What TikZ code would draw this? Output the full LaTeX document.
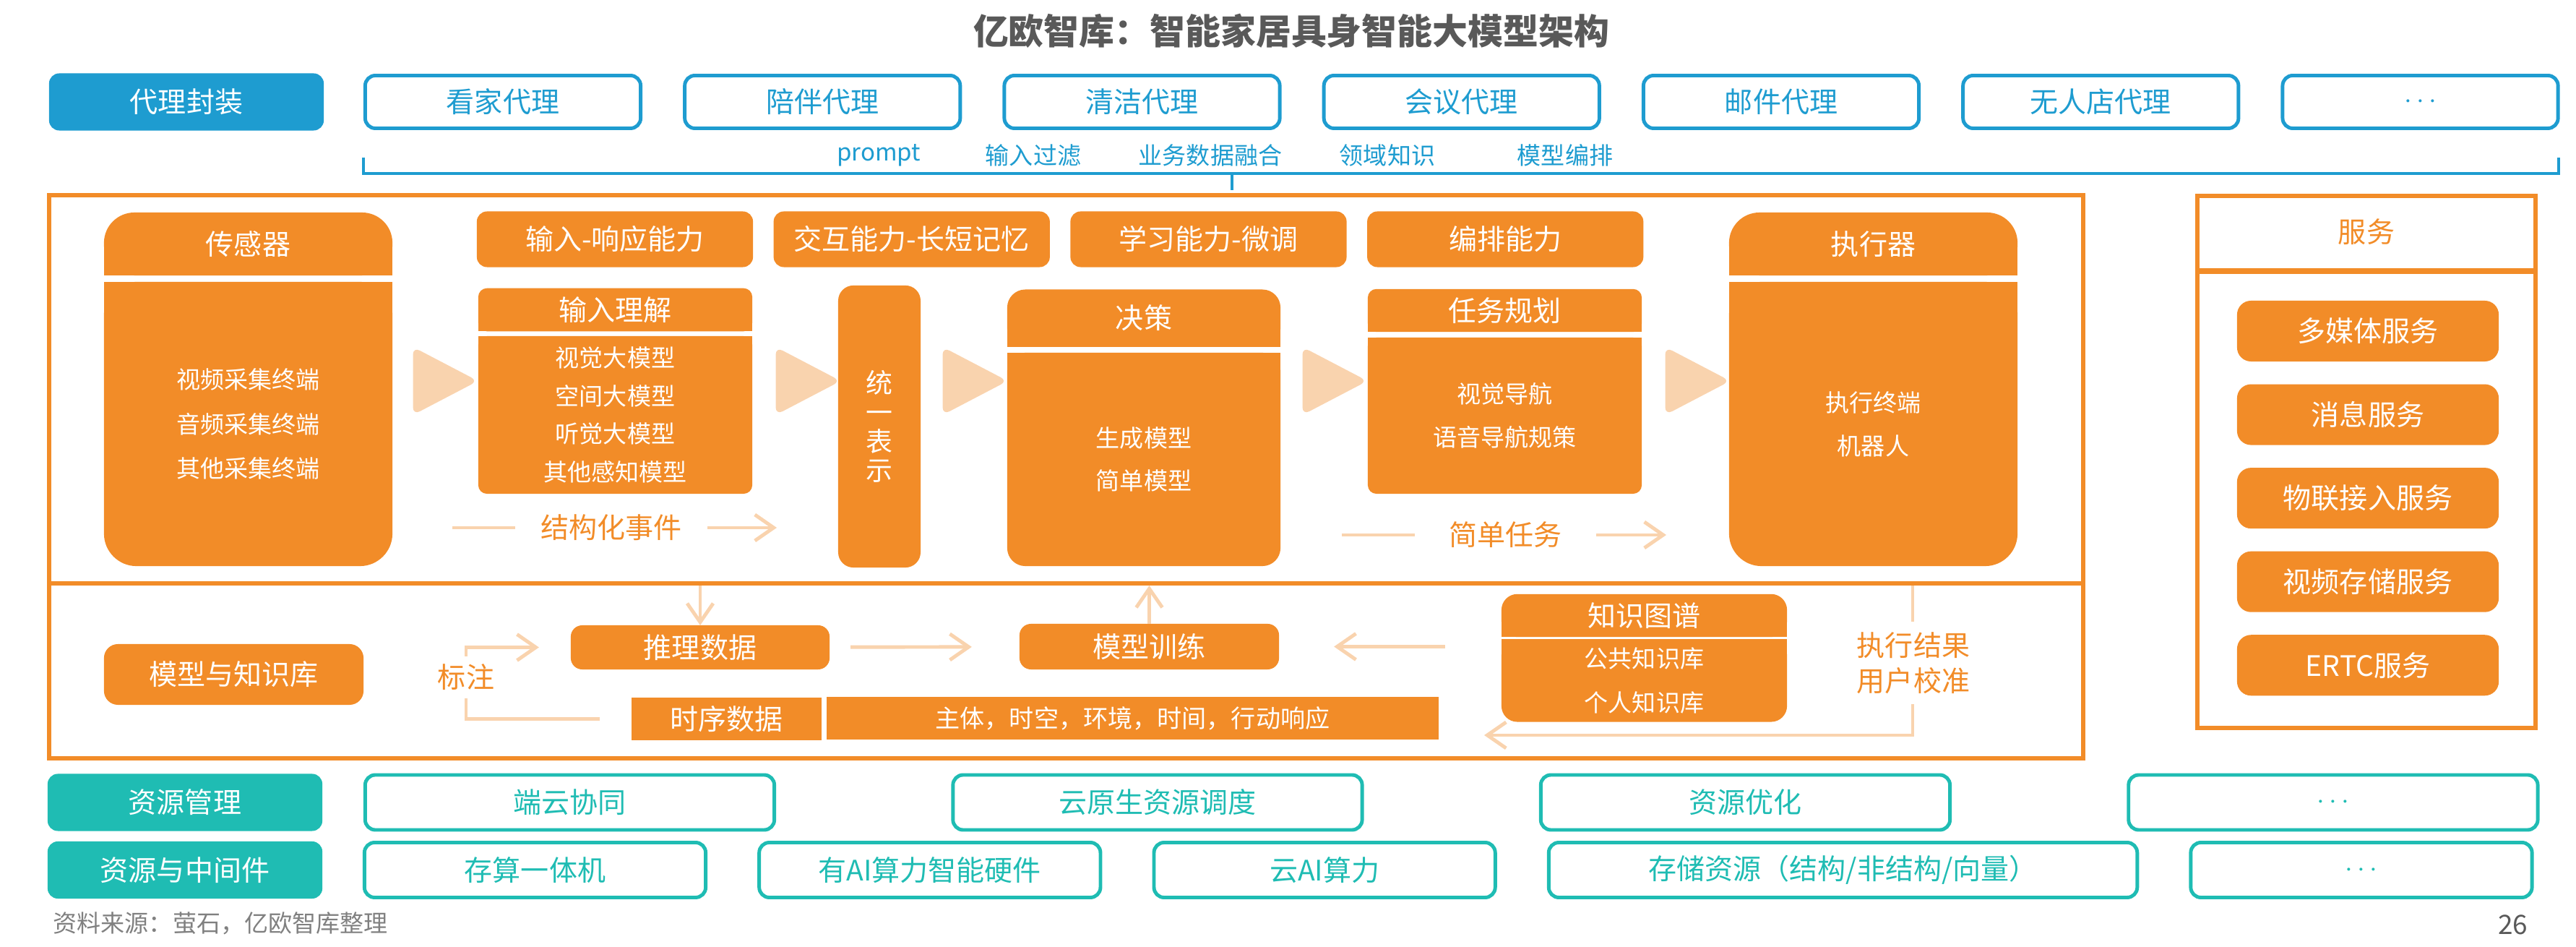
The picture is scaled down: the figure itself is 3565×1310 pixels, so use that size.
\documentclass[tikz,border=0pt]{standalone}
\usepackage{fontspec}
\setmainfont{Noto Sans CJK SC}
\usepackage{tikz}
\usetikzlibrary{
    arrows.meta,
    positioning,
    shapes.geometric
}

\definecolor{eoorange}{HTML}{F28C28}
\definecolor{eopeach}{HTML}{F9D3AE}
\definecolor{eoblue}{HTML}{1E9CD0}
\definecolor{eoteal}{HTML}{1FBCB3}
\definecolor{eogray}{HTML}{595959}

\pgfdeclarelayer{bg}
\pgfsetlayers{bg,main}

\begin{document}
\begin{tikzpicture}[
    x=0.01cm,
    y=-0.01cm,
    outer sep=0pt,
    big/.style={font=\fontsize{11.1pt}{13pt}\selectfont},
    small/.style={font=\fontsize{9.4pt}{11pt}\selectfont},
    tagbox/.style={
        big,
        rounded corners=4pt,
        text=white,
        minimum width=3.8cm,
        minimum height=0.79cm
    },
    agent/.style={
        big,
        draw=eoblue,
        line width=1.4pt,
        rounded corners=4pt,
        text=eoblue,
        minimum width=3.81cm,
        minimum height=0.73cm
    },
    res/.style={
        big,
        draw=eoteal,
        line width=1.4pt,
        rounded corners=4pt,
        text=eoteal,
        minimum height=0.76cm
    },
    hint/.style={
        small,
        text=eoblue
    },
    frame/.style={
        draw=eoorange,
        line width=1.6pt
    },
    ability/.style={
        big,
        fill=eoorange,
        rounded corners=4pt,
        text=white,
        minimum width=3.82cm,
        minimum height=0.77cm
    },
    svcbox/.style={
        big,
        fill=eoorange,
        rounded corners=5.5pt,
        text=white,
        minimum width=3.62cm,
        minimum height=0.84cm
    },
    block/.style={
        big,
        fill=eoorange,
        rounded corners=4.5pt,
        text=white
    },
    plain/.style={
        fill=eoorange,
        text=white
    },
    head/.style={
        big,
        text=white
    },
    body/.style={
        small,
        text=white,
        align=center
    },
    note/.style={
        big,
        text=eoorange
    },
    chev/.style={
        isosceles triangle,
        isosceles triangle stretches,
        fill=eopeach,
        rounded corners=3pt,
        inner sep=0pt,
        minimum width=0.94cm,
        minimum height=0.9cm
    },
    line/.style={
        draw=eopeach,
        line width=1.4pt
    },
    flow/.style={
        draw=eopeach,
        line width=1.4pt,
        -{Straight Barb[length=2.6mm, width=3.6mm]}
    }
]

\useasboundingbox (0,0) rectangle (3565,1310);

\node[font=\fontsize{13.9pt}{16pt}\selectfont\bfseries, text=eogray] (title) at (1787,43)
    {亿欧智库：智能家居具身智能大模型架构};

\node[tagbox, fill=eoblue] (wrap) at (258,141) {代理封装};
\node[agent] (ag1) at (696,141) {看家代理};
\node[agent, right=6.1mm of ag1] (ag2) {陪伴代理};
\node[agent, right=6.1mm of ag2] (ag3) {清洁代理};
\node[agent, right=6.1mm of ag3] (ag4) {会议代理};
\node[agent, right=6.1mm of ag4] (ag5) {邮件代理};
\node[agent, right=6.1mm of ag5] (ag6) {无人店代理};
\node[agent, right=6.1mm of ag6] (ag7) {$\cdots$};

\draw[eoblue, line width=1.1pt] (503,218) -- (503,240) -- (3541,240) -- (3541,218);
\draw[eoblue, line width=1.1pt] (1705,240) -- (1705,263);

\node[hint] (h1) at (1216,215) {prompt};
\node[hint] (h2) at (1430,215) {输入过滤};
\node[hint] (h3) at (1675,215) {业务数据融合};
\node[hint] (h4) at (1920,215) {领域知识};
\node[hint] (h5) at (2166,215) {模型编排};

\draw[frame] (68,270) rectangle (2883,1049);
\draw[frame] (68,807) -- (2883,807);

\node[ability] (ab1) at (851,331) {输入-响应能力};
\node[ability, right=2.85mm of ab1] (ab2) {交互能力-长短记忆};
\node[ability, right=2.85mm of ab2] (ab3) {学习能力-微调};
\node[ability, right=2.85mm of ab3] (ab4) {编排能力};

\node[head, minimum width=3.99cm, minimum height=0.87cm] (sensH) at (343.5,337.5) {传感器};
\node[body, minimum width=3.99cm, minimum height=3.93cm,
    font=\fontsize{9.4pt}{17.4pt}\selectfont] (sensB) at (343.5,586.5)
    {视频采集终端\\音频采集终端\\其他采集终端};

\node[head, minimum width=3.79cm, minimum height=0.57cm] (inH) at (851.5,428.5) {输入理解};
\node[body, minimum width=3.79cm, minimum height=2.18cm,
    font=\fontsize{9.4pt}{14.9pt}\selectfont] (inB) at (851.5,574)
    {视觉大模型\\空间大模型\\听觉大模型\\其他感知模型};

\node[block, align=center, minimum width=1.14cm, minimum height=3.9cm,
    rounded corners=6pt, font=\fontsize{10.5pt}{11.4pt}\selectfont] (unify) at (1217,590)
    {统\\一\\表\\示};

\node[head, minimum width=3.78cm, minimum height=0.79cm] (decH) at (1583,440) {决策};
\node[body, minimum width=3.78cm, minimum height=2.95cm,
    font=\fontsize{9.4pt}{16.6pt}\selectfont] (decB) at (1583,635.5)
    {生成模型\\简单模型};

\node[head, minimum width=3.79cm, minimum height=0.57cm] (taskH) at (2082.5,429.5) {任务规划};
\node[body, minimum width=3.79cm, minimum height=2.16cm,
    font=\fontsize{9.4pt}{17.1pt}\selectfont] (taskB) at (2082.5,575)
    {视觉导航\\语音导航规策};

\node[head, minimum width=3.99cm, minimum height=0.87cm] (actH) at (2592.5,337.5) {执行器};
\node[body, minimum width=3.99cm, minimum height=3.93cm,
    font=\fontsize{9.4pt}{17.1pt}\selectfont] (actB) at (2592.5,586.5)
    {执行终端\\机器人};

\node[chev] (c1) at (600,527) {};
\node[chev] (c2) at (1102,527) {};
\node[chev] (c3) at (1333,527) {};
\node[chev] (c4) at (1831,527) {};
\node[chev] (c5) at (2333,527) {};

\node[note, minimum width=2.66cm] (evt) at (846,730) {结构化事件};
\coordinate (evtL) at (626,730);
\coordinate (evtR) at (1075,730);
\draw[line] (evtL) -- (evt.west);
\draw[flow] (evt.east) -- (evtR);

\node[note, minimum width=2.51cm] (simple) at (2083.5,740) {简单任务};
\coordinate (simpleL) at (1857,740);
\coordinate (simpleR) at (2306,740);
\draw[line] (simpleL) -- (simple.west);
\draw[flow] (simple.east) -- (simpleR);

\node[block, rounded corners=5.5pt, minimum width=3.59cm, minimum height=0.84cm] (kb) at (323.5,933) {模型与知识库};
\node[block, minimum width=3.58cm, minimum height=0.61cm] (inf) at (969,895.5) {推理数据};
\node[block, minimum width=3.59cm, minimum height=0.63cm] (train) at (1590.5,894.5) {模型训练};
\node[plain, big, minimum width=2.63cm, minimum height=0.57cm] (seq) at (1005.5,994.5) {时序数据};
\node[plain, small, font=\fontsize{9.7pt}{11pt}\selectfont, minimum width=8.47cm, minimum height=0.59cm] (attr) at (1567.5,993.5)
    {主体，时空，环境，时间，行动响应};

\node[head, minimum width=3.95cm, minimum height=0.53cm] (kgH) at (2275.5,851.5) {知识图谱};
\node[body, minimum width=3.95cm, minimum height=1.13cm,
    font=\fontsize{9.4pt}{17.1pt}\selectfont] (kgB) at (2275.5,941.5)
    {公共知识库\\个人知识库};

\begin{pgfonlayer}{bg}
    \foreach \n/\r in {sensH/4.2mm, inH/1.2mm, decH/2.5mm, taskH/1.2mm, actH/4.2mm, kgH/2.2mm} {
        \fill[eoorange, rounded corners=\r] (\n.south west) rectangle (\n.north east);
        \fill[eoorange] (\n.south west) rectangle (\n.east);
    }
    \foreach \n/\r in {sensB/4.5mm, inB/1.2mm, decB/2.5mm, taskB/1.2mm, actB/4.5mm, kgB/2.2mm} {
        \fill[eoorange, rounded corners=\r] (\n.south west) rectangle (\n.north east);
        \fill[eoorange] (\n.west) rectangle (\n.north east);
    }
\end{pgfonlayer}

\coordinate (dvInf) at (969,810);
\coordinate (dvTrain) at (1590.5,810);
\coordinate (dvAct) at (2647,810);
\coordinate (mk) at (645,937);
\coordinate (fbEnd) at (2054,1017);

\draw[flow] (dvInf) -- (inf);
\draw[flow, shorten <=2.9mm, shorten >=6.6mm] (inf) -- (train);
\draw[flow] (train) -- (dvTrain);
\draw[flow, shorten <=7.8mm, shorten >=7.6mm] (kgB.west |- train.east) -- (train);
\draw[flow, shorten <=4.4mm, shorten >=4.4mm] (seq.west) -| (mk) |- (inf.west);
\draw[flow] (dvAct) |- (fbEnd);

\node[note, fill=white, inner xsep=1pt, inner ysep=3pt] (mark) at (mk) {标注};
\node[note, fill=white, align=center, inner xsep=1pt, inner ysep=4pt,
    font=\fontsize{11.1pt}{14pt}\selectfont] (calib) at (2648,917)
    {执行结果\\用户校准};

\draw[frame] (3041,271) rectangle (3509,1007);
\draw[frame, line width=2pt] (3041,375) -- (3509,375);
\node[note] (svcHead) at (3275,321) {服务};
\node[svcbox] (s1) at (3277,458) {多媒体服务};
\node[svcbox, below=3.15mm of s1] (s2) {消息服务};
\node[svcbox, below=3.15mm of s2] (s3) {物联接入服务};
\node[svcbox, below=3.15mm of s3] (s4) {视频存储服务};
\node[svcbox, below=3.15mm of s4] (s5) {ERTC服务};

\node[tagbox, fill=eoteal] (mgmt) at (256,1110) {资源管理};
\node[res, minimum width=5.66cm] (r1) at (788.5,1110) {端云协同};
\node[res, minimum width=5.66cm, right=2.47cm of r1] (r2) {云原生资源调度};
\node[res, minimum width=5.66cm, right=2.47cm of r2] (r3) {资源优化};
\node[res, minimum width=5.66cm, right=2.47cm of r3] (r4) {$\cdots$};

\node[tagbox, fill=eoteal] (mid) at (256,1203.5) {资源与中间件};
\node[res, minimum width=4.72cm] (m1) at (740.5,1203.5) {存算一体机};
\node[res, minimum width=4.72cm, right=0.74cm of m1] (m2) {有AI算力智能硬件};
\node[res, minimum width=4.72cm, right=0.74cm of m2] (m3) {云AI算力};
\node[res, minimum width=8.14cm, right=0.74cm of m3] (m4) {存储资源（结构/非结构/向量）};
\node[res, minimum width=4.72cm, right=0.74cm of m4] (m5) {$\cdots$};

\node[small, text=gray, anchor=west] (src) at (62,1277) {资料来源：萤石，亿欧智库整理};
\node[font=\fontsize{10.5pt}{12pt}\selectfont, text=eogray, anchor=east] (page) at (3510,1279) {26};

\end{tikzpicture}
\end{document}
